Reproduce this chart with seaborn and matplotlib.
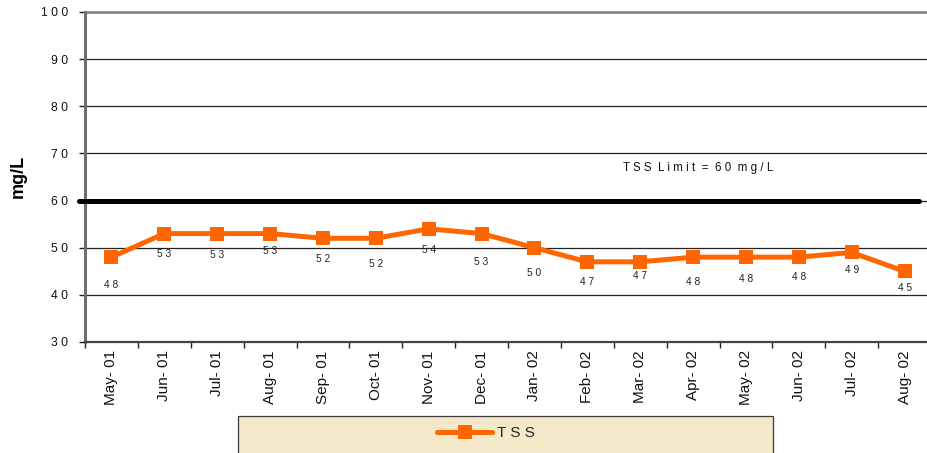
import numpy as np
import pandas as pd
import matplotlib
matplotlib.use("Agg")
import matplotlib.pyplot as plt
from matplotlib.patches import Rectangle
import seaborn as sns

months = ["May- 01", "Jun- 01", "Jul- 01", "Aug- 01", "Sep- 01", "Oct- 01",
          "Nov- 01", "Dec- 01", "Jan- 02", "Feb- 02", "Mar- 02", "Apr- 02",
          "May- 02", "Jun- 02", "Jul- 02", "Aug- 02"]
tss = [48, 53, 53, 53, 52, 52, 54, 53, 50, 47, 47, 48, 48, 48, 49, 45]
tss_limit = 60
y_ticks = [30, 40, 50, 60, 70, 80, 90, 100]

# how far (in pixels) each value label sits below its marker
label_drop_px = [28, 20, 21, 17, 21, 26, 21, 28, 25, 20, 14, 25, 22, 20, 18, 17]

ORANGE = "#FF6600"
W, H, DPI = 927, 453, 100


def spaced(s):
    """Letter-spaced rendering of a label: one space between glyphs, two between words."""
    return "  ".join(" ".join(w) for w in s.split(" "))


sns.set_theme(style="white")
plt.rcParams["font.family"] = ["Liberation Sans", "DejaVu Sans"]

fig = plt.figure(figsize=(W / DPI, H / DPI), dpi=DPI)
ax = fig.add_axes([85 / W, (H - 342) / H, (931 - 85) / W, (342 - 12) / H])

df = pd.DataFrame({"month": months, "tss": tss})
sns.lineplot(data=df, x="month", y="tss", ax=ax, sort=False, color=ORANGE,
             linewidth=3.6, marker="s", markersize=10, markeredgewidth=0,
             label="TSS", legend=False, zorder=5)

ax.set_xlim(-0.5, len(months) - 0.5)
ax.set_ylim(y_ticks[0], y_ticks[-1])

# horizontal gridlines
for v in y_ticks[1:-1]:
    ax.axhline(v, color="#222222", linewidth=0.9, zorder=1)
ax.axhline(y_ticks[-1], color="#8a8a8a", linewidth=2.0, zorder=1, clip_on=False)

# limit line, slightly overhanging the left axis
ax.axhline(tss_limit, xmin=-6 / 846, xmax=(919 - 85) / 846, color="black",
           linewidth=3.6, zorder=4, clip_on=False, solid_capstyle="round")
ax.text(11.1, 67, spaced("TSS Limit = 60 mg/L"), fontsize=8.3, ha="center",
        va="center", color="#111111")

# value labels under each marker
for i, (v, d) in enumerate(zip(tss, label_drop_px)):
    ax.annotate(spaced(str(v)), xy=(i, v), xytext=(0, -d * 72 / DPI),
                textcoords="offset points", ha="center", va="center",
                fontsize=7.3, color="#222222")

# spines
for side in ("top", "right"):
    ax.spines[side].set_visible(False)
ax.spines["left"].set_color("#6e6e6e")
ax.spines["left"].set_linewidth(2.2)
ax.spines["bottom"].set_color("#444444")
ax.spines["bottom"].set_linewidth(1.6)

# y ticks
ax.set_yticks(y_ticks)
ax.set_yticklabels([spaced(str(t)) for t in y_ticks])
ax.tick_params(axis="y", direction="out", length=4.3, width=1.0, color="#222222",
               pad=8, labelsize=8.8, labelcolor="#111111", left=True)

# x ticks: labels at categories, tick marks at category boundaries
ax.set_xticks(range(len(months)))
ax.set_xticklabels(months, rotation=90, fontsize=11, color="#111111")
ax.tick_params(axis="x", which="major", length=0, pad=6)
ax.set_xticks(np.arange(-0.5, len(months), 1.0), minor=True)
ax.tick_params(axis="x", which="minor", direction="out", length=4, width=1.0,
               color="#222222", bottom=True)

ax.set_xlabel("")
ax.set_ylabel("mg/L", fontsize=13, fontweight="bold", color="black")
ax.yaxis.set_label_coords(27 / W, (H - 176) / H, transform=fig.transFigure)

# legend panel
fig.patches.append(Rectangle((238 / W, -0.05), (773 - 238) / W, 0.05 + (H - 416) / H,
                             transform=fig.transFigure, facecolor="#F3E8C8",
                             edgecolor="#3a3a3a", linewidth=0.9, zorder=0))
handles, labels = ax.get_legend_handles_labels()
leg = fig.legend(handles, [spaced(l) for l in labels], loc="center left",
                 bbox_to_anchor=(437 / W, (H - 433) / H),
                 bbox_transform=fig.transFigure, frameon=False, fontsize=11,
                 handlelength=3.6, handletextpad=0.3, borderpad=0, borderaxespad=0)

fig.savefig("out.png", dpi=DPI)
